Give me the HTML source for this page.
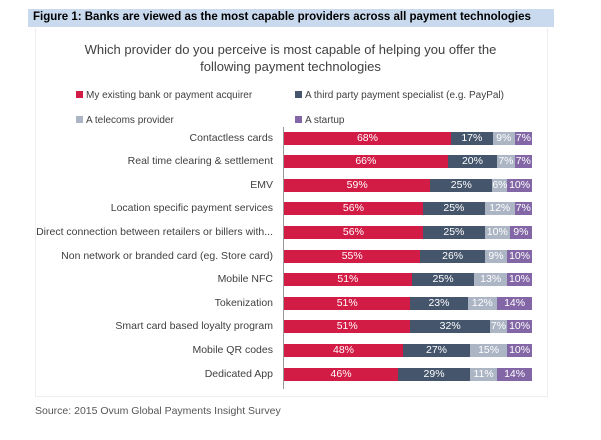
<!DOCTYPE html>
<html><head><meta charset="utf-8"><style>
body{margin:0;width:601px;height:440px;background:#fff;position:relative;overflow:hidden;font-family:"Liberation Sans",sans-serif}
.band{position:absolute;left:28px;top:9px;width:526px;height:18px;background:#c9daee}
.band span{position:absolute;left:5px;top:2px;font-size:11.5px;font-weight:bold;color:#000;white-space:nowrap}
.box{position:absolute;left:35px;top:28px;width:511px;height:368px;border:1px solid #eee;border-top:none}
.q{position:absolute;left:35px;width:511px;text-align:center;font-size:13px;color:#404040}
.lg{position:absolute;font-size:10px;color:#404040;white-space:nowrap}
.lg i{display:inline-block;width:7px;height:7px;margin-right:3px;vertical-align:0px}
.lab{position:absolute;right:328px;font-size:10.5px;line-height:13px;color:#404040;white-space:nowrap;text-align:right}
.bar{position:absolute;left:284px;width:248px;height:13px;display:flex}
.bar div{height:13px;color:#fff;font-size:10.5px;line-height:13px;text-align:center;overflow:hidden;white-space:nowrap}
.a{background:#d21b45}.b{background:#45556c}.c{background:#abb5c4}.d{background:#8266a6}
.axis{position:absolute;left:283px;top:127px;width:1px;height:262px;background:#999}
.src{position:absolute;left:35px;top:405px;font-size:10.5px;color:#555}
</style></head><body>
<div class="band"><span>Figure 1: Banks are viewed as the most capable providers across all payment technologies</span></div>
<div class="box"></div>
<div class="q" style="top:42px">Which provider do you perceive is most capable of helping you offer the</div>
<div class="q" style="top:59px">following payment technologies</div>
<div class="lg" style="left:76px;top:90px"><i class="a"></i>My existing bank or payment acquirer</div>
<div class="lg" style="left:295px;top:90px"><i class="b"></i>A third party payment specialist (e.g. PayPal)</div>
<div class="lg" style="left:76px;top:115px"><i class="c"></i>A telecoms provider</div>
<div class="lg" style="left:295px;top:115px"><i class="d"></i>A startup</div>
<div class="axis"></div>
<div id="rows"></div>
<div class="src">Source: 2015 Ovum Global Payments Insight Survey</div>
<script>
var d=[["Contactless cards",68,17,9,7],["Real time clearing & settlement",66,20,7,7],["EMV",59,25,6,10],["Location specific payment services",56,25,12,7],["Direct connection between retailers or billers with...",56,25,10,9],["Non network or branded card (eg. Store card)",55,26,9,10],["Mobile NFC",51,25,13,10],["Tokenization",51,23,12,14],["Smart card based loyalty program",51,32,7,10],["Mobile QR codes",48,27,15,10],["Dedicated App",46,29,11,14]];
var h="";d.forEach(function(r,i){var y=138+23.6*i;var s=r[1]+r[2]+r[3]+r[4];
h+='<div class="lab" style="top:'+(y-6.5)+'px">'+r[0].replace("&","&amp;")+'</div><div class="bar" style="top:'+(y-6.5)+'px">';
["a","b","c","d"].forEach(function(c,k){h+='<div class="'+c+'" style="width:'+(r[k+1]/s*100)+'%">'+r[k+1]+'%</div>'});h+='</div>'});
document.getElementById("rows").innerHTML=h;
</script>
</body></html>
